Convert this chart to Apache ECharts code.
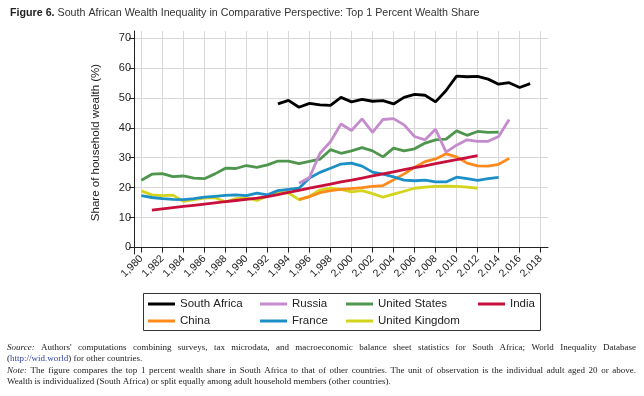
<!DOCTYPE html>
<html>
<head>
<meta charset="utf-8">
<script src="https://cdn.jsdelivr.net/npm/echarts@6.0.0/dist/echarts.min.js"></script>
<style>
  html, body { margin: 0; padding: 0; background: #fff; }
  #chart { width: 644px; height: 396px; }
</style>
</head>
<body>
<div id="chart"></div>
<script>
// top 1% wealth share (first year of each series + values)
const southAfricaStart = 1993;
const southAfrica = [48.0, 49.2, 46.9, 48.2, 47.7, 47.5, 50.2, 48.7, 49.5, 48.9, 49.1, 48.0, 50.2,
  51.2, 50.9, 48.7, 52.5, 57.3, 57.1, 57.2, 56.3, 54.6, 55.1, 53.5, 54.8];
const russiaStart = 1995;
const russia = [21.5, 23.4, 31.5, 35.4, 41.3, 39.1, 43.0, 38.5, 42.8, 43.1, 41.0, 37.1, 36.0, 39.5,
  31.9, 34.2, 36.0, 35.5, 35.5, 37.1, 42.8];
const unitedStatesStart = 1980;
const unitedStates = [22.5, 24.5, 24.7, 23.7, 23.9, 23.2, 23.0, 24.6, 26.5, 26.4, 27.4, 26.8, 27.6,
  28.9, 28.9, 28.0, 28.8, 29.5, 32.7, 31.5, 32.3, 33.4, 32.3, 30.3, 33.2, 32.3, 33.0, 34.9, 36.0,
  36.2, 39.0, 37.5, 38.8, 38.5, 38.6];
const indiaStart = 1981;
const india = [12.5, 12.9, 13.3, 13.7, 14.1, 14.5, 14.9, 15.3, 15.7, 16.1, 16.5, 17.0, 17.7, 18.4,
  19.1, 19.8, 20.5, 21.2, 21.9, 22.5, 23.2, 23.9, 24.6, 25.3, 26.0, 26.7, 27.3, 28.0, 28.7, 29.4,
  30.0, 30.7];
const chinaStart = 1995;
const china = [16.0, 17.0, 18.3, 19.0, 19.4, 19.7, 20.0, 20.4, 20.7, 22.6, 24.6, 26.8, 28.7, 29.6,
  31.3, 30.3, 28.2, 27.3, 27.2, 27.8, 29.8];
const franceStart = 1980;
const france = [17.3, 16.7, 16.3, 16.1, 16.0, 16.3, 16.8, 17.1, 17.4, 17.6, 17.3, 18.2, 17.6, 19.0,
  19.4, 19.8, 23.2, 25.1, 26.5, 27.9, 28.2, 27.2, 25.2, 24.5, 23.6, 22.5, 22.3, 22.5, 21.9, 21.9,
  23.5, 23.0, 22.4, 23.0, 23.4];
const unitedKingdomStart = 1980;
const unitedKingdom = [18.9, 17.6, 17.3, 17.5, 15.4, 16.0, 16.5, 16.7, 15.2, 16.3, 16.6, 15.7, 17.2,
  18.5, 18.2, 16.0, 17.1, 19.2, 19.8, 19.4, 18.6, 19.0, 18.0, 16.8, 17.8, 18.8, 19.8, 20.2, 20.4,
  20.5, 20.4, 20.2, 19.8];

const xTicks = [1980, 1982, 1984, 1986, 1988, 1990, 1992, 1994, 1996, 1998, 2000, 2002, 2004,
  2006, 2008, 2010, 2012, 2014, 2016, 2018];
const yTicks = [0, 10, 20, 30, 40, 50, 60, 70];

const sourceWords = "Authors' computations combining surveys, tax microdata, and macroeconomic balance sheet statistics for South Africa; World Inequality Database";
const noteWords = "The figure compares the top 1 percent wealth share in South Africa to that of other countries. The unit of observation is the individual adult aged 20 or above.";
const noteLast = "Wealth is individualized (South Africa) or split equally among adult household members (other countries).";

function pairs(start, vals) {
  return vals.map((v, i) => [start + i, v]);
}

function line(name, color, start, vals) {
  return {
    name: name,
    type: 'line',
    data: pairs(start, vals),
    showSymbol: false,
    symbol: 'none',
    lineStyle: { color: color, width: 2.8 },
    itemStyle: { color: color },
    emphasis: { disabled: true },
    animation: false
  };
}

// justified footnote lines, one text element per word
const ctx = document.createElement('canvas').getContext('2d');
const noteLeft = 7, noteRight = 636;
function fontOf(italic) {
  return (italic ? 'italic ' : '') + '9px "Liberation Serif"';
}
function justified(lead, text, y) {
  const words = [[lead, true]].concat(text.split(' ').map(w => [w, false]));
  const widths = words.map(([w, it]) => { ctx.font = fontOf(it); return ctx.measureText(w).width; });
  const total = widths.reduce((a, b) => a + b, 0);
  const gap = (noteRight - noteLeft - total) / (words.length - 1);
  let x = noteLeft;
  return words.map(([w, it], i) => {
    const el = {
      type: 'text', x: x, y: y,
      style: { text: w, font: fontOf(it), fill: '#222', verticalAlign: 'middle' }
    };
    x += widths[i] + gap;
    return el;
  });
}

const chart = echarts.init(document.getElementById('chart'));

const legendText = { fontFamily: 'Liberation Sans', fontSize: 11.5, color: '#222' };
function legendCol(left, names) {
  return {
    data: names.map(n => ({ name: n, icon: 'rect' })),
    left: left, top: 293, orient: 'vertical',
    itemWidth: 27, itemHeight: 3, itemGap: 5,
    textStyle: legendText, selectedMode: false
  };
}

chart.setOption({
  backgroundColor: '#fff',
  animation: false,
  title: {
    text: '{b|Figure 6.} South African Wealth Inequality in Comparative Perspective: Top 1 Percent Wealth Share',
    left: 5, top: 3,
    textStyle: {
      fontFamily: 'Liberation Sans', fontSize: 10.7, fontWeight: 'normal', color: '#333',
      rich: { b: { fontFamily: 'Liberation Sans', fontSize: 10.7, fontWeight: 'bold', color: '#222' } }
    }
  },
  legend: [
    legendCol(143, ['South Africa', 'China']),
    legendCol(255, ['Russia', 'France']),
    legendCol(341, ['United States', 'United Kingdom']),
    legendCol(473, ['India'])
  ],
  grid: { left: 134, right: 96, top: 31, bottom: 142 },
  xAxis: {
    type: 'value', min: 1979.3, max: 2018.7,
    axisLine: { lineStyle: { color: '#222', width: 1 } },
    axisTick: { customValues: xTicks, length: 5, lineStyle: { color: '#222' } },
    axisLabel: {
      customValues: xTicks, rotate: 45, margin: 3,
      fontFamily: 'Liberation Sans', fontSize: 10.5, color: '#222'
    },
    splitLine: { show: true, lineStyle: { color: '#d8d8d8', width: 1 } }
  },
  yAxis: {
    type: 'value', min: -2.2, max: 72.4,
    name: 'Share of household wealth (%)', nameLocation: 'middle', nameGap: 32,
    nameTextStyle: { fontFamily: 'Liberation Sans', fontSize: 11.5, color: '#222' },
    axisLine: { show: true, lineStyle: { color: '#222', width: 1 } },
    axisTick: { show: true, customValues: yTicks, length: 5, lineStyle: { color: '#222' } },
    axisLabel: { customValues: yTicks, margin: 3, fontFamily: 'Liberation Sans', fontSize: 11, color: '#222' },
    splitLine: { show: true, lineStyle: { color: '#d8d8d8', width: 1 } }
  },
  series: [
    line('United Kingdom', '#d4d41c', unitedKingdomStart, unitedKingdom),
    line('China', '#ff8a1c', chinaStart, china),
    line('France', '#1b8fc6', franceStart, france),
    line('India', '#c8103c', indiaStart, india),
    line('United States', '#4e964e', unitedStatesStart, unitedStates),
    line('Russia', '#c48bcd', russiaStart, russia),
    line('South Africa', '#000000', southAfricaStart, southAfrica)
  ],
  graphic: [
    {
      type: 'rect', shape: { x: 143.5, y: 293.5, width: 397, height: 37 },
      style: { fill: 'none', stroke: '#333', lineWidth: 1 }
    }
  ].concat(
    justified('Source:', sourceWords, 348),
    [{
      type: 'text', x: noteLeft, y: 359,
      style: {
        text: '({l|http://wid.world}) for other countries.', font: fontOf(false), fill: '#222',
        verticalAlign: 'middle',
        rich: { l: { fill: '#2c3fa6', fontFamily: 'Liberation Serif', fontSize: 9 } }
      }
    }],
    justified('Note:', noteWords, 371),
    [{
      type: 'text', x: noteLeft, y: 382,
      style: { text: noteLast, font: fontOf(false), fill: '#222', verticalAlign: 'middle' }
    }]
  )
});
</script>
</body>
</html>
